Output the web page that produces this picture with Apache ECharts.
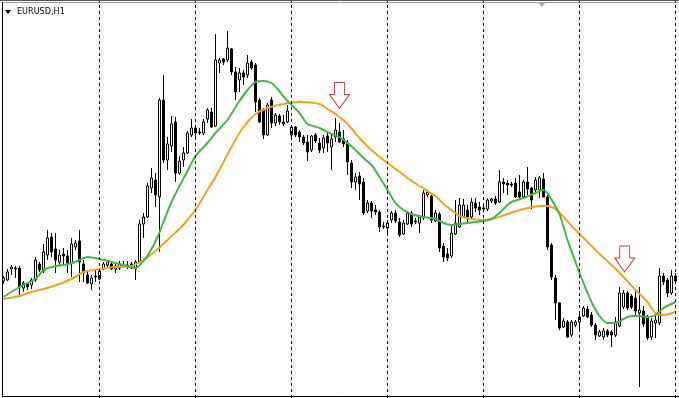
<!DOCTYPE html>
<html>
<head>
<meta charset="utf-8">
<script src="https://cdn.jsdelivr.net/npm/echarts@6/dist/echarts.min.js"></script>
<style>
html,body{margin:0;padding:0;background:#fff;}
#chart{width:679px;height:398px;}
</style>
</head>
<body>
<div id="chart"></div>
<script>
// EURUSD H1 candles (prices)
const opens = [
1.0719,1.0720,1.0731,1.0732,1.0732,1.0712,1.0716,1.0715,1.0720,1.0736,
1.0729,1.0745,1.0763,1.0751,1.0738,1.0746,1.0744,1.0737,1.0753,1.0759,
1.0736,1.0725,1.0716,1.0724,1.0721,1.0731,1.0735,1.0736,1.0731,1.0732,
1.0735,1.0734,1.0736,1.0731,1.0738,1.0776,1.0783,1.0812,1.0820,1.0803,
1.0900,1.0840,1.0854,1.0878,1.0827,1.0840,1.0847,1.0865,1.0872,1.0868,
1.0867,1.0881,1.0888,1.0874,1.0937,1.0941,1.0940,1.0951,1.0928,1.0920,
1.0927,1.0925,1.0938,1.0935,1.0900,1.0890,1.0865,1.0900,1.0877,1.0884,
1.0878,1.0878,1.0865,1.0873,1.0868,1.0863,1.0858,1.0850,1.0865,1.0857,
1.0852,1.0864,1.0853,1.0863,1.0868,1.0861,1.0857,1.0837,1.0818,1.0824,
1.0818,1.0789,1.0797,1.0790,1.0788,1.0773,1.0772,1.0780,1.0787,1.0778,
1.0766,1.0776,1.0787,1.0779,1.0777,1.0782,1.0805,1.0804,1.0779,1.0786,
1.0754,1.0746,1.0744,1.0766,1.0773,1.0783,1.0790,1.0783,1.0797,1.0793,
1.0792,1.0791,1.0799,1.0801,1.0798,1.0818,1.0817,1.0816,1.0817,1.0808,
1.0803,1.0818,1.0812,1.0810,1.0810,1.0821,1.0803,1.0755,1.0722,1.0697,
1.0673,1.0678,1.0665,1.0675,1.0678,1.0684,1.0691,1.0685,1.0675,1.0664,
1.0663,1.0669,1.0668,1.0665,1.0674,1.0693,1.0707,1.0704,1.0702,1.0687,
1.0689,1.0683,1.0663,1.0677,1.0677,1.0724,1.0720,1.0707,1.0724
];
const closes = [
1.0722,1.0728,1.0733,1.0731,1.0713,1.0717,1.0713,1.0720,1.0740,1.0730,
1.0748,1.0762,1.0748,1.0740,1.0745,1.0744,1.0737,1.0756,1.0757,1.0738,
1.0727,1.0717,1.0722,1.0723,1.0729,1.0736,1.0738,1.0731,1.0734,1.0736,
1.0734,1.0735,1.0732,1.0738,1.0776,1.0783,1.0814,1.0822,1.0805,1.0900,
1.0840,1.0856,1.0876,1.0827,1.0839,1.0847,1.0867,1.0872,1.0867,1.0867,
1.0878,1.0890,1.0873,1.0940,1.0940,1.0938,1.0952,1.0928,1.0908,1.0927,
1.0923,1.0937,1.0932,1.0898,1.0878,1.0865,1.0895,1.0877,1.0885,1.0878,
1.0876,1.0889,1.0873,1.0865,1.0863,1.0857,1.0848,1.0864,1.0859,1.0850,
1.0862,1.0857,1.0861,1.0870,1.0858,1.0856,1.0838,1.0818,1.0823,1.0816,
1.0787,1.0797,1.0789,1.0788,1.0773,1.0774,1.0777,1.0787,1.0779,1.0765,
1.0777,1.0787,1.0776,1.0778,1.0783,1.0807,1.0808,1.0780,1.0787,1.0752,
1.0743,1.0742,1.0767,1.0777,1.0795,1.0795,1.0783,1.0798,1.0792,1.0790,
1.0791,1.0800,1.0801,1.0797,1.0818,1.0816,1.0815,1.0815,1.0803,1.0803,
1.0818,1.0811,1.0800,1.0820,1.0822,1.0803,1.0753,1.0723,1.0697,1.0672,
1.0679,1.0663,1.0678,1.0678,1.0683,1.0692,1.0683,1.0675,1.0665,1.0668,
1.0669,1.0665,1.0665,1.0678,1.0707,1.0707,1.0692,1.0693,1.0689,1.0690,
1.0676,1.0662,1.0679,1.0680,1.0724,1.0718,1.0707,1.0724,1.0719
];
const lows = [
1.0716,1.0719,1.0725,1.0722,1.0703,1.0708,1.0710,1.0711,1.0718,1.0728,
1.0727,1.0740,1.0743,1.0727,1.0735,1.0734,1.0727,1.0723,1.0750,1.0718,
1.0718,1.0716,1.0710,1.0718,1.0720,1.0730,1.0732,1.0730,1.0727,1.0730,
1.0732,1.0731,1.0731,1.0720,1.0737,1.0762,1.0782,1.0807,1.0793,1.0748,
1.0837,1.0830,1.0848,1.0818,1.0825,1.0833,1.0846,1.0863,1.0863,1.0865,
1.0865,1.0877,1.0872,1.0873,1.0927,1.0935,1.0938,1.0925,1.0900,1.0908,
1.0915,1.0922,1.0930,1.0888,1.0877,1.0861,1.0864,1.0872,1.0874,1.0875,
1.0874,1.0877,1.0863,1.0863,1.0858,1.0855,1.0839,1.0848,1.0857,1.0847,
1.0847,1.0848,1.0830,1.0858,1.0857,1.0853,1.0825,1.0812,1.0810,1.0800,
1.0785,1.0787,1.0782,1.0785,1.0768,1.0771,1.0767,1.0777,1.0777,1.0763,
1.0765,1.0775,1.0773,1.0776,1.0767,1.0780,1.0803,1.0777,1.0778,1.0748,
1.0738,1.0739,1.0742,1.0765,1.0772,1.0782,1.0778,1.0780,1.0788,1.0785,
1.0788,1.0789,1.0797,1.0795,1.0797,1.0807,1.0805,1.0813,1.0802,1.0802,
1.0803,1.0805,1.0791,1.0807,1.0802,1.0803,1.0750,1.0720,1.0680,1.0670,
1.0672,1.0662,1.0663,1.0673,1.0670,1.0683,1.0682,1.0673,1.0660,1.0663,
1.0660,1.0663,1.0653,1.0663,1.0673,1.0691,1.0690,1.0691,1.0683,1.0613,
1.0673,1.0660,1.0660,1.0662,1.0675,1.0715,1.0703,1.0705,1.0717
];
const highs = [
1.0724,1.0731,1.0735,1.0734,1.0734,1.0719,1.0718,1.0722,1.0743,1.0738,
1.0756,1.0770,1.0767,1.0767,1.0750,1.0752,1.0750,1.0762,1.0760,1.0770,
1.0740,1.0730,1.0725,1.0730,1.0730,1.0738,1.0740,1.0738,1.0737,1.0739,
1.0739,1.0739,1.0738,1.0740,1.0780,1.0787,1.0817,1.0832,1.0827,1.0902,
1.0925,1.0863,1.0884,1.0883,1.0844,1.0853,1.0869,1.0881,1.0874,1.0872,
1.0881,1.0892,1.0892,1.0966,1.0942,1.0942,1.0969,1.0952,1.0933,1.0932,
1.0930,1.0945,1.0940,1.0937,1.0902,1.0892,1.0897,1.0903,1.0887,1.0886,
1.0885,1.0895,1.0875,1.0874,1.0870,1.0865,1.0865,1.0865,1.0867,1.0862,
1.0865,1.0867,1.0865,1.0882,1.0877,1.0870,1.0860,1.0840,1.0827,1.0828,
1.0822,1.0800,1.0799,1.0795,1.0790,1.0778,1.0780,1.0789,1.0790,1.0782,
1.0780,1.0789,1.0789,1.0782,1.0784,1.0810,1.0810,1.0805,1.0790,1.0788,
1.0757,1.0752,1.0774,1.0800,1.0802,1.0801,1.0795,1.0802,1.0802,1.0798,
1.0794,1.0802,1.0802,1.0804,1.0830,1.0822,1.0820,1.0818,1.0822,1.0825,
1.0820,1.0833,1.0813,1.0823,1.0824,1.0827,1.0805,1.0757,1.0725,1.0698,
1.0682,1.0680,1.0680,1.0680,1.0686,1.0694,1.0694,1.0688,1.0677,1.0670,
1.0672,1.0671,1.0670,1.0683,1.0713,1.0710,1.0709,1.0706,1.0710,1.0713,
1.0694,1.0685,1.0682,1.0687,1.0732,1.0727,1.0722,1.0730,1.0727
];
// Fast moving average (green), [bar index, price]
const maFast = [
[0,1.0703],[4,1.0713],[8,1.0721],[10,1.0730],[12,1.0733],[15,1.0735],[18,1.0738],[21,1.0743],
[24,1.0741],[27,1.0738],[30,1.0735],[33,1.0732],[35,1.0739],[37,1.0751],[38.5,1.0763],[40,1.0778],
[42,1.0798],[44,1.0814],[46,1.0829],[48,1.0844],[51,1.0857],[53,1.0867],[56,1.0880],[58.5,1.0896],
[61,1.0910],[63,1.0918],[65,1.0919],[67,1.0917],[68.5,1.0911],[71,1.0899],[74,1.0887],[76,1.0876],
[79,1.0872],[82,1.0866],[84,1.0863],[86,1.0857],[88,1.0850],[90,1.0842],[92,1.0835],[94,1.0823],
[96,1.0810],[98,1.0797],[100,1.0790],[102,1.0786],[105,1.0783],[108,1.0781],[110,1.0777],[112,1.0775],
[114,1.0776],[116,1.0777],[120,1.0779],[122,1.0781],[124,1.0787],[125.5,1.0793],[127,1.0798],[130,1.0802],
[133,1.0807],[135,1.0810],[136,1.0807],[137.5,1.0797],[139,1.0786],[141,1.0760],[143,1.0738],[145,1.0717],
[147,1.0698],[149,1.0684],[151,1.0677],[153,1.0677],[155,1.0681],[157,1.0684],[159,1.0684],[161,1.0683],
[163,1.0685],[165,1.0692],[168,1.0698]
];
// Slow moving average (orange), [bar index, price]
const maSlow = [
[0,1.0701],[4,1.0704],[7,1.0708],[11,1.0712],[14,1.0716],[17,1.0721],[20,1.0728],[24,1.0731],
[28,1.0733],[32,1.0734],[35,1.0740],[38,1.0749],[40,1.0756],[42,1.0764],[44,1.0771],[46,1.0780],
[48,1.0790],[51,1.0810],[53,1.0823],[55,1.0838],[57,1.0853],[59,1.0867],[61,1.0878],[63,1.0886],
[66,1.0892],[70,1.0896],[74,1.0898],[79,1.0896],[81,1.0891],[83,1.0886],[86,1.0876],[89,1.0862],
[92,1.0850],[95,1.0840],[98,1.0831],[101,1.0822],[104,1.0814],[106,1.0809],[108,1.0804],[110,1.0796],
[112,1.0790],[114,1.0784],[117,1.0781],[120,1.0780],[123,1.0782],[126,1.0786],[130,1.0791],[134,1.0794],
[136,1.0794],[138,1.0791],[140,1.0783],[143,1.0770],[146,1.0758],[149,1.0746],[152,1.0735],[155,1.0723],
[158,1.0710],[161,1.0698],[163,1.0687],[165,1.0685],[168,1.0688]
];
// Sell-signal arrows: [bar index, price at arrow tip]
const arrowSignals = [[84, 1.08915], [155.3, 1.0728]];
// Period (day) separators at bar indices
const daySeparators = [24, 48, 72, 96, 120, 144, 168];
const priceMin = 1.0602, priceMax = 1.1000;

const categories = opens.map((_, i) => String(i));
const candles = opens.map((o, i) => [o, closes[i], lows[i], highs[i]]);

const chart = echarts.init(document.getElementById('chart'), null, {renderer: 'canvas'});
const arrowPath = 'path://M5,0 L15,0 L15,12 L20,12 L10,26 L0,12 L5,12 Z';
chart.setOption({
  animation: false,
  backgroundColor: '#ffffff',
  grid: {left: 1.5, top: 0, width: 676, height: 398, containLabel: false},
  xAxis: [
    {type: 'category', data: categories, show: false, boundaryGap: true, gridIndex: 0},
    {type: 'value', min: -0.5, max: 168.5, show: false, gridIndex: 0}
  ],
  yAxis: [{type: 'value', min: priceMin, max: priceMax, show: false, scale: true}],
  series: [
    {
      type: 'line', xAxisIndex: 1, data: [], z: 1, silent: true,
      markLine: {
        silent: true, symbol: ['none', 'none'], animation: false,
        label: {show: false},
        lineStyle: {color: '#000', width: 1, type: [3, 3]},
        data: daySeparators.map(v => ({xAxis: v}))
      }
    },
    {
      type: 'candlestick', xAxisIndex: 0, data: candles, barWidth: 2, z: 2,
      itemStyle: {color: '#ffffff', color0: '#000000', borderColor: '#000000', borderColor0: '#000000', borderWidth: 1}
    },
    {
      type: 'line', xAxisIndex: 1, data: maSlow, showSymbol: false, smooth: 0.25, z: 3,
      lineStyle: {color: '#f0a21e', width: 2}
    },
    {
      type: 'line', xAxisIndex: 1, data: maFast, showSymbol: false, smooth: 0.25, z: 4,
      lineStyle: {color: '#41b941', width: 2}
    },
    {
      type: 'scatter', xAxisIndex: 1, data: arrowSignals, symbol: arrowPath, symbolSize: [20, 26],
      symbolOffset: [0, '-50%'], z: 5,
      itemStyle: {color: '#ffffff', borderColor: '#c83c3c', borderWidth: 1, opacity: 1}
    }
  ],
  graphic: [
    {type: 'line', shape: {x1: 0, y1: 0.5, x2: 679, y2: 0.5}, style: {stroke: '#555', lineWidth: 1}, z: 10},
    {type: 'line', shape: {x1: 2, y1: 2.5, x2: 679, y2: 2.5}, style: {stroke: '#9a9a9a', lineWidth: 1}, z: 10},
    {type: 'line', shape: {x1: 2.5, y1: 2, x2: 2.5, y2: 397}, style: {stroke: '#000', lineWidth: 1}, z: 10},
    {type: 'line', shape: {x1: 2, y1: 396.5, x2: 679, y2: 396.5}, style: {stroke: '#000', lineWidth: 1}, z: 10},
    {type: 'polygon', shape: {points: [[5, 10], [11, 10], [8, 14]]}, style: {fill: '#000'}, z: 10},
    {type: 'polygon', shape: {points: [[538, 2], [546, 2], [542, 7]]}, style: {fill: '#a8a8a8'}, z: 10},
    {type: 'text', left: 17, top: 7, style: {text: 'EURUSD,H1', fill: '#000', font: '9px "Liberation Sans Narrow", "DejaVu Sans Condensed", "Liberation Sans", sans-serif'}, z: 10}
  ]
});
</script>
</body>
</html>
